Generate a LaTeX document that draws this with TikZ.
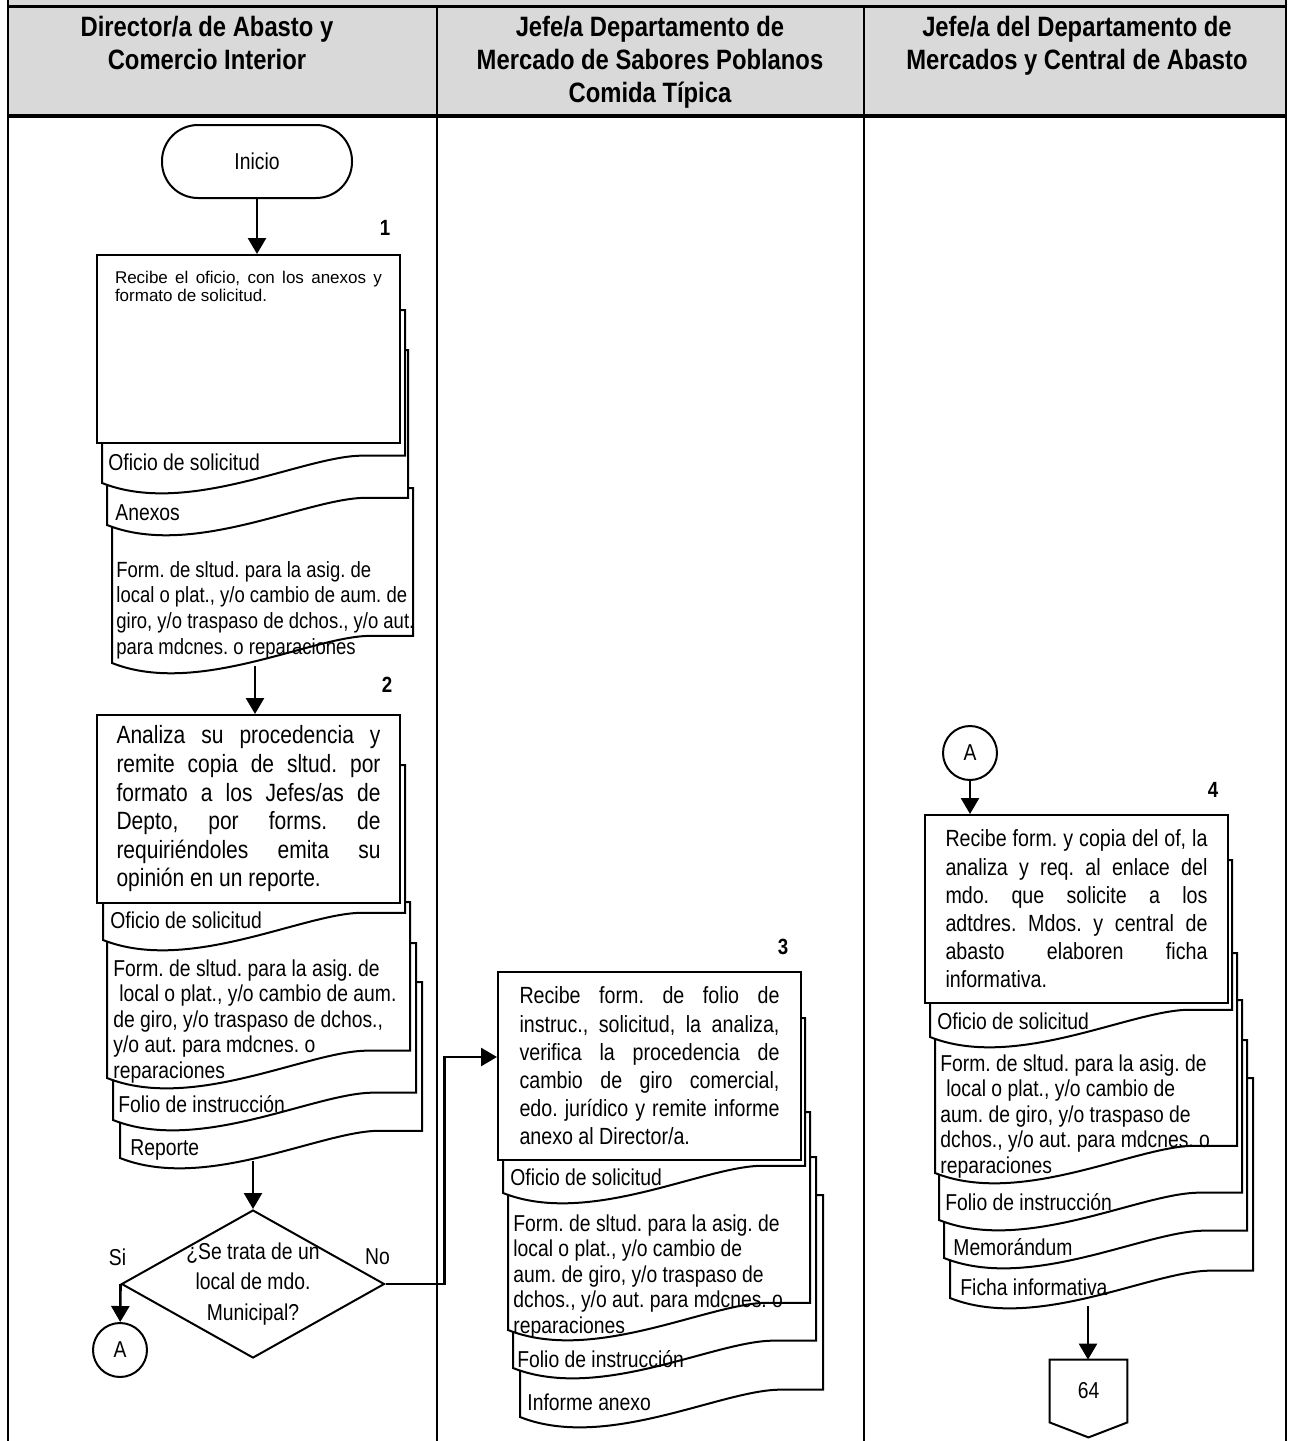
\documentclass[tikz,border=0pt]{standalone}
\usepackage{fontspec}
\setmainfont[FakeStretch=0.84]{Liberation Sans}
\newfontfamily\headfont[FakeStretch=0.85]{Liberation Sans}
\newfontfamily\plainfont{Liberation Sans}
\frenchspacing
\usetikzlibrary{arrows.meta,positioning,shapes.geometric}
\definecolor{headgray}{RGB}{217,217,217}
\tikzset{
 lane/.style={line width=1pt},
 lanehead/.style={line width=1.6pt},
 headtxt/.style={
 font=\headfont\bfseries\fontsize{14}{16.5}\selectfont,
 align=center,
 anchor=north,
 inner sep=0pt
 },
 procbox/.style={
 rectangle,
 draw,
 fill=white,
 line width=1pt,
 minimum width=151.5pt,
 minimum height=94pt,
 inner sep=0pt
 },
 proctext/.style={procbox, align=justify, font=\fontsize{11.7}{14.1}\selectfont},
 doctext/.style={inner sep=0pt, align=left, font=\fontsize{11.5}{12.8}\selectfont},
 docline/.style={draw, fill=white, line width=1pt},
 stepnum/.style={inner sep=0pt, font=\headfont\bfseries\fontsize{11}{12}\selectfont},
 terminal/.style={
 rectangle,
 draw,
 line width=1pt,
 rounded corners=18pt,
 minimum width=95pt,
 minimum height=36.5pt,
 font=\fontsize{11.5}{13}\selectfont
 },
 decision/.style={
 diamond,
 draw,
 fill=white,
 line width=1pt,
 aspect=1.78,
 minimum width=131.5pt,
 minimum height=74pt,
 inner sep=-8pt,
 align=center,
 font=\fontsize{11.5}{15.2}\selectfont
 },
 connector/.style={circle, draw, line width=1pt, minimum size=27pt, inner sep=0pt, font=\fontsize{11.5}{13}\selectfont},
 offpage/.style={rectangle, minimum width=38.5pt, minimum height=31pt, inner sep=0pt, font=\fontsize{11.5}{13}\selectfont},
 answer/.style={inner sep=0pt, font=\fontsize{11.5}{13}\selectfont},
 flowarrow/.style={-{Triangle[length=8pt,width=9pt]}, line width=1.3pt}
}

% document symbol: left x, top y, right x, y of lower left corner
\newcommand{\docshape}[4]{%
 \pgfmathsetmacro{\docw}{#3-#1}
 \draw[docline] (#1,#4) -- (#1,#2) -- (#3,#2) -- (#3,#4-0.09*\docw)
 -- (#1+0.87*\docw,#4-0.09*\docw)
 .. controls (#1+0.68*\docw,#4-0.098*\docw) and (#1+0.29*\docw,#4+0.115*\docw) .. (#1,#4) -- cycle;
}

\begin{document}
\begin{tikzpicture}[x=0.5pt, y=-0.5pt]
 \useasboundingbox (0,0) rectangle (1289,1441);

 % lanes
 \fill[headgray] (8,0) rectangle (1286,116);
 \draw[lanehead] (8,6.5) -- (1286,6.5);
 \draw[lanehead] (8,116) -- (1286,116);
 \draw[lane] (8,0) -- (8,1441);
 \draw[lane] (437,6.5) -- (437,1441);
 \draw[lane] (864,6.5) -- (864,1441);
 \draw[lane] (1286,0) -- (1286,1441);
 \node[headtxt] (lane1) at (207,16) {Director/a de Abasto y\\Comercio Interior};
 \node[headtxt] (lane2) at (650,16) {Jefe/a Departamento de\\Mercado de Sabores Poblanos\\Comida Típica};
 \node[headtxt] (lane3) at (1077,16) {Jefe/a del Departamento de\\Mercados y Central de Abasto};

 % step 1
 \node[terminal] (inicio) at (257,161.5) {Inicio};
 \docshape{112}{488}{413}{663}
 \node[doctext, anchor=north west, font=\fontsize{11}{12.8}\selectfont] (frm1) at (116,561) {Form. de sltud. para la asig. de\\local o plat., y/o cambio de aum. de\\giro, y/o traspaso de dchos., y/o aut.\\para mdcnes. o reparaciones};
 \docshape{107}{350}{408}{525}
 \node[doctext, anchor=base west] (anx1) at (115,520) {Anexos};
 \docshape{102}{310}{405}{483}
 \node[doctext, anchor=base west] (ofi1) at (108,470) {Oficio de solicitud};
 \node[procbox] (recibe) at (248.5,349) {\parbox[c][78pt][t]{133.5pt}{\plainfont\fontsize{8.5}{9}\selectfont Recibe el oficio, con los anexos y\linebreak formato de solicitud.}};
 \node[stepnum] (n1) at (385,228) {1};
 \draw[flowarrow] (inicio) -- (inicio |- recibe.north);

 % step 2
 \coordinate (frm1b) at (255,666);
 \docshape{120}{982}{422}{1158}
 \node[doctext, anchor=base west] (rep2) at (130,1155) {Reporte};
 \docshape{113}{943}{416}{1120}
 \node[doctext, anchor=base west] (fol2) at (118,1112) {Folio de instrucción};
 \docshape{107}{902}{410}{1078}
 \node[doctext, anchor=north west] (frm2) at (113,959) {Form. de sltud. para la asig. de\\\hspace*{3pt}local o plat., y/o cambio de aum.\\de giro, y/o traspaso de dchos.,\\y/o aut. para mdcnes. o\\reparaciones};
 \docshape{103}{765}{405}{940}
 \node[doctext, anchor=base west] (ofi2) at (110,928) {Oficio de solicitud};
 \node[proctext, text width=132pt, font=\fontsize{12.5}{14.3}\selectfont] (analiza) at (248.5,809) {Analiza su procedencia y\linebreak remite copia de sltud. por\linebreak formato a los Jefes/as de\linebreak Depto, por forms. de\linebreak requiriéndoles emita su\linebreak opinión en un reporte.};
 \node[stepnum] (n2) at (387,685) {2};
 \draw[flowarrow] (frm1b) -- (frm1b |- analiza.north);

 % decision
 \coordinate (rep2b) at (253,1161);
 \node[decision] (municipal) at (253,1284) {¿Se trata de un\\local de mdo.\\Municipal?};
 \draw[flowarrow] (rep2b) -- (municipal.north);
 \node[answer] (si) at ([xshift=-1.5pt,yshift=13.5pt]municipal.west) {Si};
 \node[answer] (no) at ([xshift=-4pt,yshift=13.5pt]municipal.east) {No};
 \node[connector] (ca1) at (120,1350) {A};
 \draw[flowarrow] (municipal.west) -- (ca1);

 % step 3
 \docshape{520}{1195}{823}{1417}
 \node[doctext, anchor=base west] (inf3) at (527,1410) {Informe anexo};
 \docshape{513}{1157}{816}{1368}
 \node[doctext, anchor=base west] (fol3) at (517,1367) {Folio de instrucción};
 \docshape{508}{1112}{810}{1330}
 \node[doctext, anchor=north west] (frm3) at (513,1214) {Form. de sltud. para la asig. de\\local o plat., y/o cambio de\\aum. de giro, y/o traspaso de\\dchos., y/o aut. para mdcnes. o\\reparaciones};
 \docshape{503}{1018}{805}{1193}
 \node[doctext, anchor=base west] (ofi3) at (510,1185) {Oficio de solicitud};
 \node[proctext, text width=130pt] (verifica) at (649.5,1066) {Recibe form. de folio de\linebreak instruc., solicitud, la analiza,\linebreak verifica la procedencia de\linebreak cambio de giro comercial,\linebreak edo. jurídico y remite informe\linebreak anexo al Director/a.};
 \node[stepnum] (n3) at (783,947) {3};
 \draw[flowarrow] (municipal.east) -- ++(59,0) |- ([yshift=4.5pt]verifica.west);

 % step 4
 \node[connector] (ca2) at (970,753) {A};
 \docshape{950}{1078}{1253}{1298}
 \node[doctext, anchor=base west] (fic4) at (960,1295) {Ficha informativa};
 \docshape{944}{1040}{1247}{1258}
 \node[doctext, anchor=base west] (mem4) at (953,1255) {Memorándum};
 \docshape{939}{1000}{1242}{1220}
 \node[doctext, anchor=base west] (fol4) at (945,1210) {Folio de instrucción};
 \docshape{935}{953}{1237}{1173}
 \node[doctext, anchor=north west] (frm4) at (940,1054) {Form. de sltud. para la asig. de\\\hspace*{3pt}local o plat., y/o cambio de\\aum. de giro, y/o traspaso de\\dchos., y/o aut. para mdcnes. o\\reparaciones};
 \docshape{930}{860}{1232}{1037}
 \node[doctext, anchor=base west] (ofi4) at (937,1029) {Oficio de solicitud};
 \node[proctext, text width=131pt] (informa) at (1076.5,909) {Recibe form. y copia del of, la\linebreak analiza y req. al enlace del\linebreak mdo. que solicite a los\linebreak adtdres. Mdos. y central de\linebreak abasto elaboren ficha\linebreak informativa.};
 \node[stepnum] (n4) at (1213,790) {4};
 \draw[flowarrow] (ca2) -- (ca2 |- informa.north);
 \coordinate (fic4b) at (1088,1306);
 \node[offpage] (pg64) at (1088.5,1391) {64};
 \draw[line width=1pt] (pg64.north west) -- (pg64.north east) -- (pg64.south east) -- ([yshift=-7.5pt]pg64.south) -- (pg64.south west) -- cycle;
 \draw[flowarrow] (fic4b) -- (fic4b |- pg64.north);
\end{tikzpicture}
\end{document}
